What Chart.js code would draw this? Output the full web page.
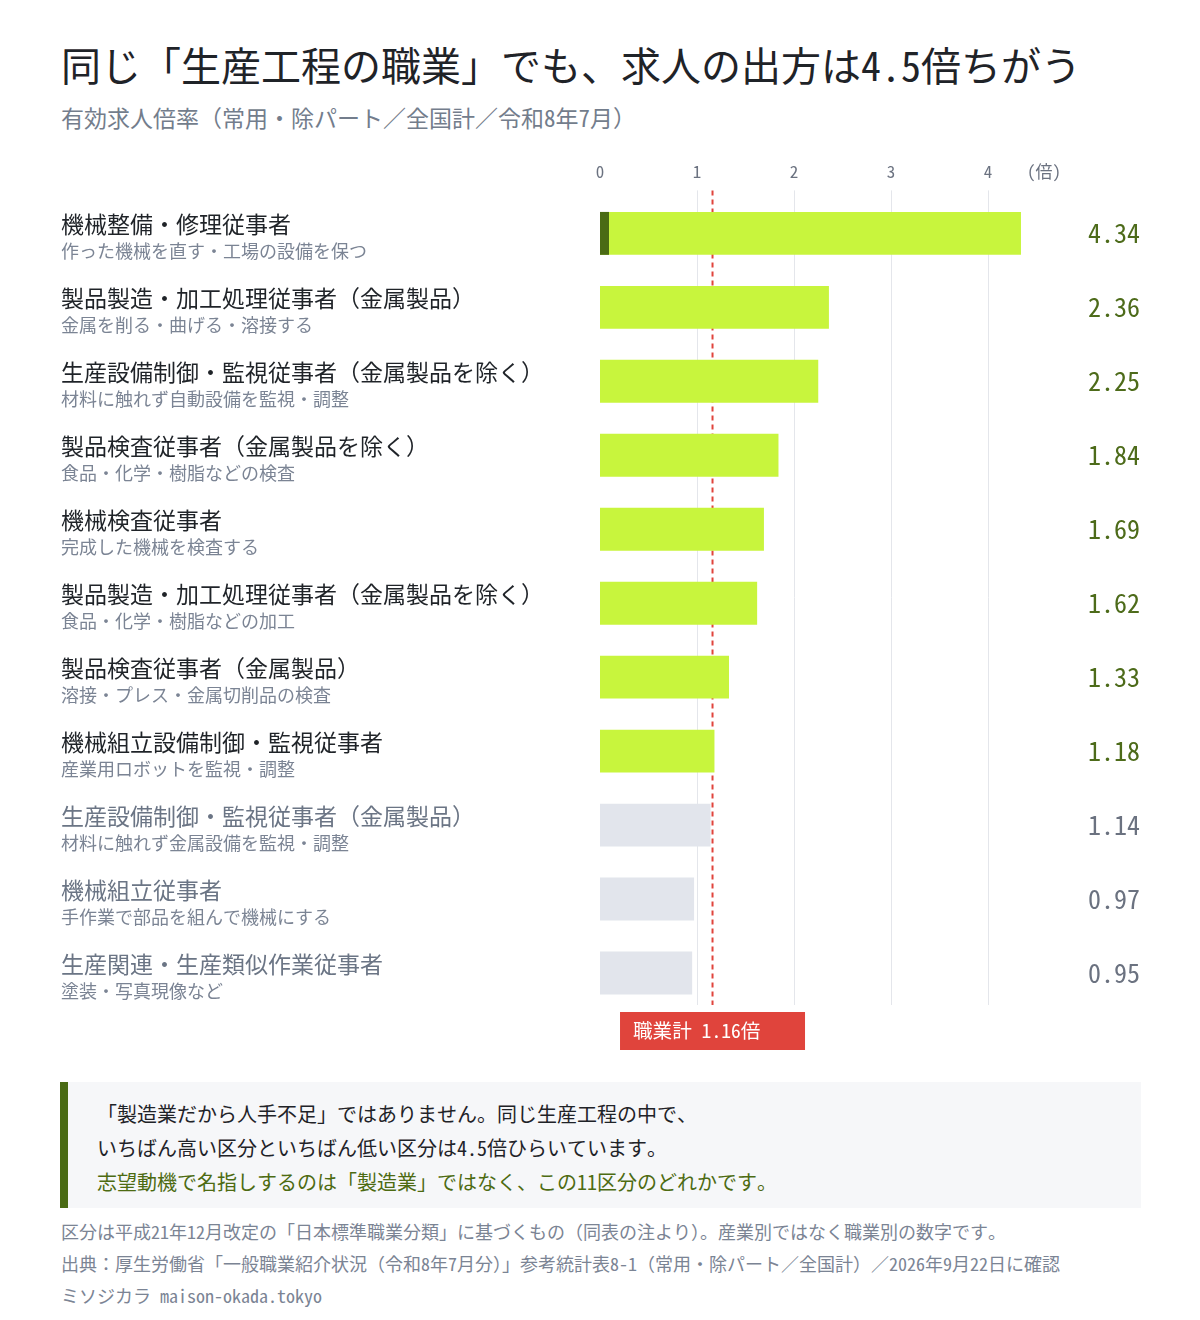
<!DOCTYPE html>
<html lang="ja">
<head>
<meta charset="utf-8">
<script src="https://cdn.jsdelivr.net/npm/chart.js@4.4.1/dist/chart.umd.min.js"></script>
<style>
  html, body { margin:0; padding:0; background:#ffffff; }
  body { width:1200px; height:1320px; position:relative; overflow:hidden;
         font-family:"Noto Sans Mono CJK JP","Noto Sans CJK JP",monospace; }
  .abs { position:absolute; white-space:nowrap; }
  #title { left:61px; top:39px; height:50px; line-height:50px; font-size:40px; color:#1f2328; }
  #subtitle { left:61px; top:102px; height:30px; line-height:30px; font-size:23px; color:#737d8c; }
  #chartWrap { left:0; top:135px; width:1200px; height:925px; }
  #callout { left:60px; top:1082px; width:1044px; height:111px; padding:15px 0 0 29px;
             background:#f6f7f9; border-left:8px solid #4a6b14; }
  #callout div { height:34px; line-height:34px; font-size:20px; color:#1f2328; }
  #callout div.hl { color:#4d6b12; }
  #footer { left:61px; top:1215px; }
  #footer div { height:32px; line-height:32px; font-size:18px; color:#7b8494; }
</style>
</head>
<body>
<div id="title" class="abs">同じ「生産工程の職業」でも、求人の出方は4.5倍ちがう</div>
<div id="subtitle" class="abs">有効求人倍率（常用・除パート／全国計／令和8年7月）</div>
<div id="chartWrap" class="abs"><canvas id="c" width="1200" height="925"></canvas></div>
<div id="callout" class="abs">
  <div>「製造業だから人手不足」ではありません。同じ生産工程の中で、</div>
  <div>いちばん高い区分といちばん低い区分は4.5倍ひらいています。</div>
  <div class="hl">志望動機で名指しするのは「製造業」ではなく、この11区分のどれかです。</div>
</div>
<div id="footer" class="abs">
  <div>区分は平成21年12月改定の「日本標準職業分類」に基づくもの（同表の注より）。産業別ではなく職業別の数字です。</div>
  <div>出典：厚生労働省「一般職業紹介状況（令和8年7月分）」参考統計表8-1（常用・除パート／全国計）／2026年9月22日に確認</div>
  <div>ミソジカラ maison-okada.tokyo</div>
</div>
<script>
// ---- data ----
const categories = [
  "機械整備・修理従事者",
  "製品製造・加工処理従事者（金属製品）",
  "生産設備制御・監視従事者（金属製品を除く）",
  "製品検査従事者（金属製品を除く）",
  "機械検査従事者",
  "製品製造・加工処理従事者（金属製品を除く）",
  "製品検査従事者（金属製品）",
  "機械組立設備制御・監視従事者",
  "生産設備制御・監視従事者（金属製品）",
  "機械組立従事者",
  "生産関連・生産類似作業従事者"
];
const descriptions = [
  "作った機械を直す・工場の設備を保つ",
  "金属を削る・曲げる・溶接する",
  "材料に触れず自動設備を監視・調整",
  "食品・化学・樹脂などの検査",
  "完成した機械を検査する",
  "食品・化学・樹脂などの加工",
  "溶接・プレス・金属切削品の検査",
  "産業用ロボットを監視・調整",
  "材料に触れず金属設備を監視・調整",
  "手作業で部品を組んで機械にする",
  "塗装・写真現像など"
];
const ratios = [4.34, 2.36, 2.25, 1.84, 1.69, 1.62, 1.33, 1.18, 1.14, 0.97, 0.95];
const overallRatio = 1.16;
const overallLabel = "職業計 1.16倍";
const tickValues = [0, 1, 2, 3, 4];
const unitLabel = "(倍)";

// ---- styles ----
const FONT = '"Noto Sans Mono CJK JP","Noto Sans CJK JP",monospace';
const LIME = '#c8f53d', GRAY_BAR = '#e2e5ec', DARK_GREEN = '#4a6b14', RED = '#e0443c';
const above = ratios.map(v => v > overallRatio);

const overlay = {
  id: 'overlay',
  beforeDatasetsDraw(chart) {
    const ctx = chart.ctx, xs = chart.scales.x, a = chart.chartArea;
    ctx.save();
    ctx.strokeStyle = '#e4e6eb'; ctx.lineWidth = 1;
    tickValues.forEach(v => {
      if (v === 0) return;
      const x = Math.round(xs.getPixelForValue(v)) + 0.5;
      ctx.beginPath(); ctx.moveTo(x, a.top - 6); ctx.lineTo(x, a.bottom - 5); ctx.stroke();
    });
    const rx = xs.getPixelForValue(overallRatio);
    ctx.strokeStyle = RED; ctx.lineWidth = 2; ctx.setLineDash([5, 4]);
    ctx.beginPath(); ctx.moveTo(rx, a.top - 6); ctx.lineTo(rx, a.bottom - 5); ctx.stroke();
    ctx.setLineDash([]);
    ctx.restore();
  },
  afterDatasetsDraw(chart) {
    const ctx = chart.ctx, xs = chart.scales.x, ys = chart.scales.y, a = chart.chartArea;
    const meta = chart.getDatasetMeta(0);
    ctx.save();
    const maxIdx = ratios.indexOf(Math.max(...ratios));
    const bar = meta.data[maxIdx];
    const bh = bar.height;
    ctx.fillStyle = DARK_GREEN;
    ctx.fillRect(bar.base, bar.y - bh / 2, 9, bh);
    ratios.forEach((v, i) => {
      const y = ys.getPixelForValue(i);
      ctx.textAlign = 'left'; ctx.textBaseline = 'middle';
      ctx.font = '23px ' + FONT;
      ctx.fillStyle = above[i] ? '#1f2328' : '#6b7585';
      ctx.fillText(categories[i], 61, y - 9);
      ctx.font = '18px ' + FONT;
      ctx.fillStyle = '#7b8494';
      ctx.fillText(descriptions[i], 61, y + 18);
      ctx.textAlign = 'right';
      ctx.font = '26px ' + FONT;
      ctx.fillStyle = above[i] ? '#4d6b1a' : '#6b7280';
      ctx.fillText(v.toFixed(2), 1140, y);
    });
    ctx.textAlign = 'left'; ctx.textBaseline = 'middle';
    ctx.font = '17px ' + FONT; ctx.fillStyle = '#6b7280';
    ctx.fillText(unitLabel, 1027, a.top - 25);
    const rx = xs.getPixelForValue(overallRatio);
    const bw = 185, bTop = a.bottom + 2, bHgt = 38;
    ctx.fillStyle = RED;
    ctx.fillRect(rx - bw / 2, bTop, bw, bHgt);
    ctx.fillStyle = '#ffffff'; ctx.font = '19.6px ' + FONT;
    ctx.textAlign = 'left';
    ctx.fillText(overallLabel, rx - bw / 2 + 13, bTop + bHgt / 2);
    ctx.restore();
  }
};

new Chart(document.getElementById('c'), {
  type: 'bar',
  data: {
    labels: categories,
    datasets: [{
      data: ratios,
      backgroundColor: ratios.map((v, i) => above[i] ? LIME : GRAY_BAR),
      borderWidth: 0,
      barPercentage: 0.58,
      categoryPercentage: 1.0
    }]
  },
  options: {
    indexAxis: 'y',
    responsive: false,
    animation: false,
    devicePixelRatio: 1,
    layout: { padding: { left: 600, right: 163.5, top: 11, bottom: 50 } },
    plugins: { legend: { display: false }, tooltip: { enabled: false } },
    scales: {
      x: {
        type: 'linear', position: 'top', min: 0, max: 4.5,
        afterBuildTicks: s => { s.ticks = tickValues.map(v => ({ value: v })); },
        grid: { display: false, drawTicks: false },
        border: { display: false },
        ticks: { padding: 15, color: '#6b7280', font: { family: FONT, size: 17 } }
      },
      y: { display: false }
    }
  },
  plugins: [overlay]
});
</script>
</body>
</html>
